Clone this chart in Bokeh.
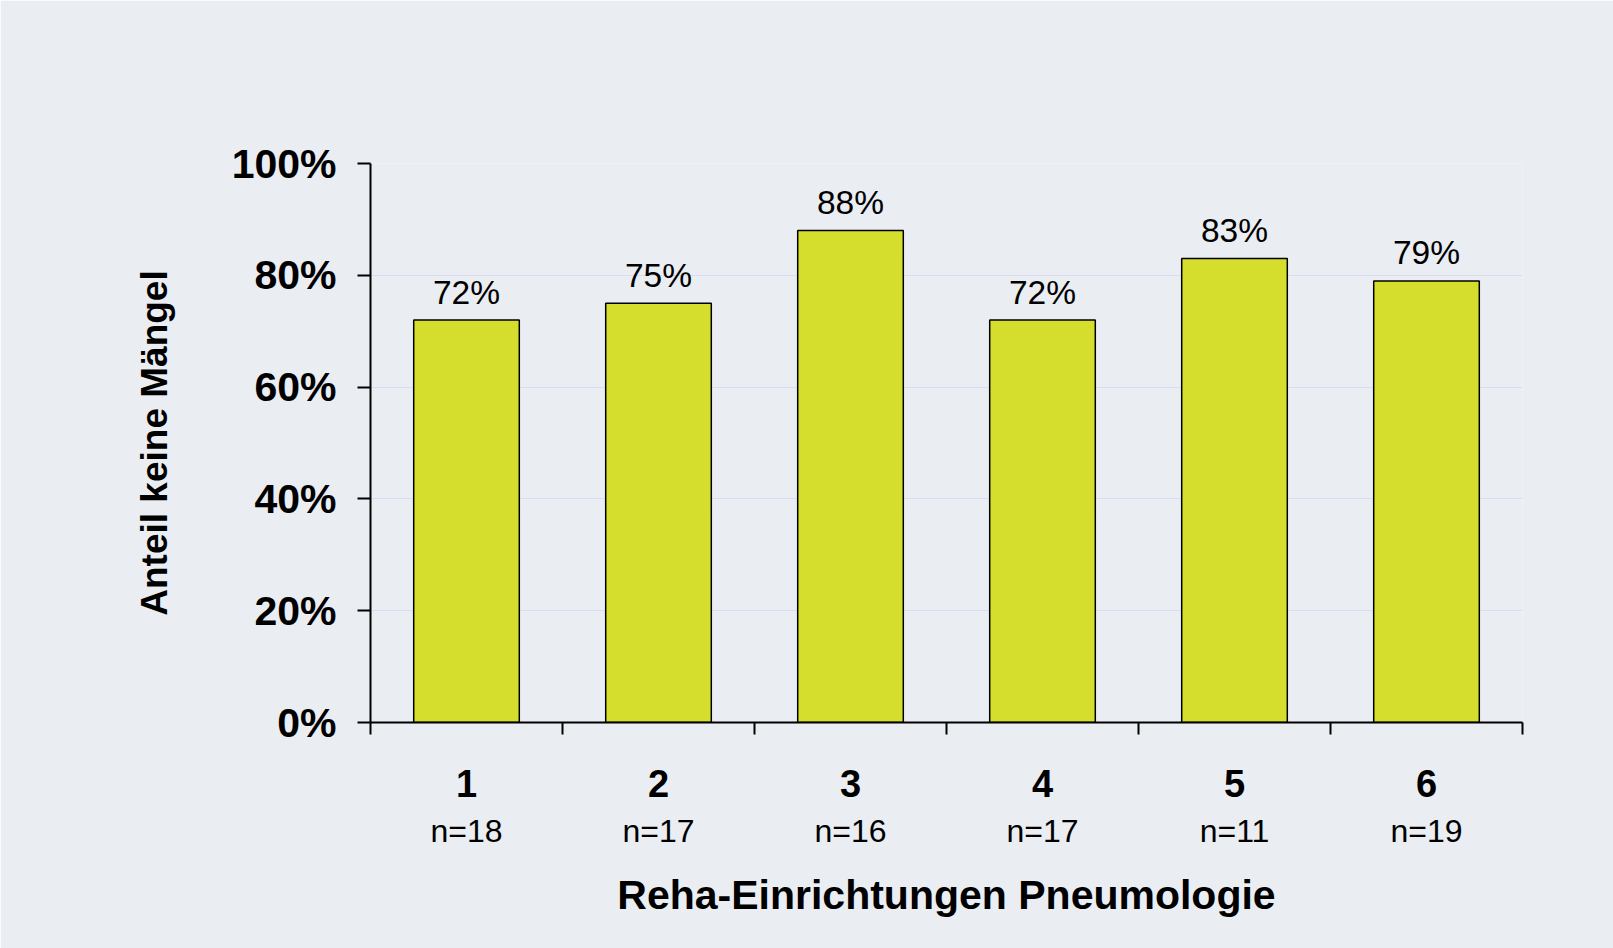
from bokeh.plotting import figure
from bokeh.models import FixedTicker, LinearAxis, Range1d, ColumnDataSource, Grid
from bokeh.core.properties import value
from bokeh.embed import file_html
from bokeh.resources import INLINE

# ---- data ----
categories = ["1", "2", "3", "4", "5", "6"]
n_labels = ["n=18", "n=17", "n=16", "n=17", "n=11", "n=19"]
shares = [0.72, 0.75, 0.88, 0.72, 0.83, 0.79]
share_labels = ["72%", "75%", "88%", "72%", "83%", "79%"]
y_ticks = [0.0, 0.2, 0.4, 0.6, 0.8, 1.0]
y_tick_labels = ["0%", "20%", "40%", "60%", "80%", "100%"]
x_title = "Reha-Einrichtungen Pneumologie"
y_title = "Anteil keine Mängel"

FONT = "Liberation Sans"
BG = "#eaedf2"
BAR = "#d5de2c"
LABEL_GAP = 0.05  # gap between bar top and its label, in data units

xs = [i + 0.5 for i in range(len(categories))]
src = ColumnDataSource(dict(x=xs, top=shares, ly=[v + LABEL_GAP for v in shares], lab=share_labels))

p = figure(width=1613, height=948, output_backend="svg", toolbar_location=None,
           x_range=Range1d(0, len(categories)), y_range=Range1d(0, 1),
           x_axis_type=None, y_axis_type=None,
           min_border_left=370, min_border_right=91, min_border_top=163, min_border_bottom=226)
p.background_fill_color = BG
p.border_fill_color = BG
p.outline_line_color = None

p.add_layout(Grid(dimension=1, ticker=FixedTicker(ticks=y_ticks), grid_line_color="#d9dcf3", grid_line_width=1))

p.vbar(x="x", top="top", bottom=0, width=0.55, source=src,
       fill_color=BAR, line_color="black", line_width=1.5)
p.text(x="x", y="ly", text="lab", source=src, text_align="center",
       text_baseline="alphabetic",
       text_font=value(FONT), text_font_size="33.5px", text_color="black")

# y axis
yax = LinearAxis(ticker=FixedTicker(ticks=y_ticks, minor_ticks=[]),
                 major_label_overrides=dict(zip(y_ticks, y_tick_labels)))
yax.axis_line_color = "black"
yax.axis_line_width = 2
yax.major_tick_line_color = "black"
yax.major_tick_line_width = 2
yax.major_tick_out = 13
yax.major_tick_in = 0
yax.minor_tick_line_color = None
yax.major_label_standoff = 21
yax.major_label_text_font = FONT
yax.major_label_text_font_style = "bold"
yax.major_label_text_font_size = "41px"
yax.major_label_text_color = "black"
yax.axis_label = y_title
yax.axis_label_text_font = FONT
yax.axis_label_text_font_style = "bold"
yax.axis_label_text_font_size = "37px"
yax.axis_label_text_color = "black"
yax.axis_label_standoff = 54
p.add_layout(yax, "left")

# x axis: boundary ticks as minor ticks, category numbers as labels
bounds = [float(i) for i in range(len(categories) + 1)]
xax = LinearAxis(ticker=FixedTicker(ticks=xs, minor_ticks=bounds),
                 major_label_overrides=dict(zip(xs, categories)))
xax.axis_line_color = "black"
xax.axis_line_width = 2
xax.major_tick_line_color = None
xax.major_tick_out = 0
xax.minor_tick_line_color = "black"
xax.minor_tick_line_width = 2
xax.minor_tick_out = 12
xax.minor_tick_in = 0
xax.major_label_standoff = 35
xax.major_label_text_font = FONT
xax.major_label_text_font_style = "bold"
xax.major_label_text_font_size = "38px"
xax.major_label_text_color = "black"
p.add_layout(xax, "below")

nax = LinearAxis(ticker=FixedTicker(ticks=xs, minor_ticks=[]),
                 major_label_overrides=dict(zip(xs, n_labels)))
nax.axis_line_color = None
nax.major_tick_line_color = None
nax.minor_tick_line_color = None
nax.major_tick_out = 0
nax.major_tick_in = 0
nax.major_label_standoff = 13
nax.major_label_text_font = FONT
nax.major_label_text_font_size = "32px"
nax.major_label_text_color = "black"
nax.axis_label = x_title
nax.axis_label_text_font = FONT
nax.axis_label_text_font_style = "bold"
nax.axis_label_text_font_size = "41px"
nax.axis_label_text_color = "black"
nax.axis_label_standoff = 20
p.add_layout(nax, "below")

open("out.html", "w").write(file_html(p, INLINE))
